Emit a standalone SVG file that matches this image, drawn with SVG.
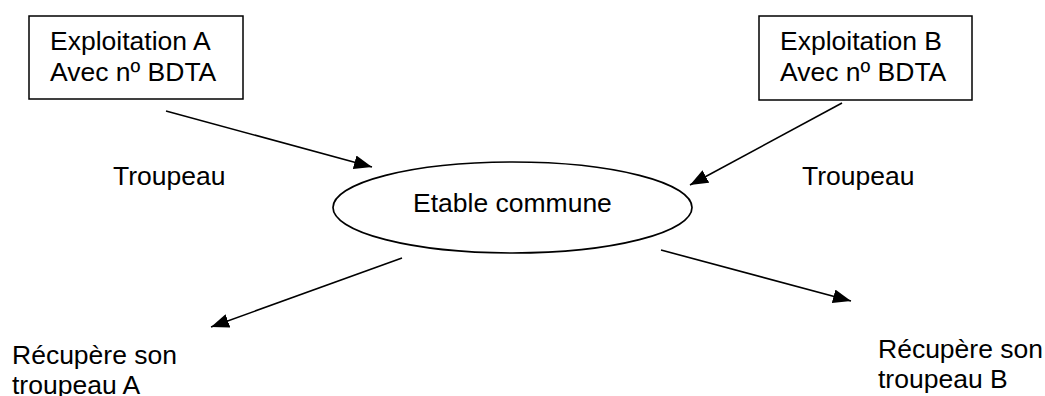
<svg xmlns="http://www.w3.org/2000/svg" width="1045" height="396" viewBox="0 0 1045 396">
<style>
text{font-family:"Liberation Sans",Arial,sans-serif;font-size:26.5px;fill:#000}
.box{fill:#fff;stroke:#000;stroke-width:1.5}
.conn line{stroke:#000;stroke-width:1.6}
</style>
<defs>
<marker id="ah" viewBox="0 0 18 14" refX="18" refY="7" markerWidth="18" markerHeight="14" markerUnits="userSpaceOnUse" orient="auto">
<path d="M0,0 L18,7 L0,14 Z" fill="#000"/>
</marker>
</defs>
<rect width="1045" height="396" fill="#fff"/>
<g id="nodeA">
<rect class="box" x="29" y="16" width="214" height="83"/>
<text x="50" y="50">Exploitation A</text>
<text x="50" y="81">Avec nº BDTA</text>
</g>
<g id="nodeB">
<rect class="box" x="759" y="16" width="213" height="84"/>
<text x="780" y="50">Exploitation B</text>
<text x="780" y="81">Avec nº BDTA</text>
</g>
<g id="etable">
<ellipse cx="512.5" cy="207.5" rx="179.5" ry="45.5" fill="#fff" stroke="#000" stroke-width="1.7"/>
<text x="413" y="212">Etable commune</text>
</g>
<g id="labelTroupeauA"><text x="113" y="185">Troupeau</text></g>
<g id="labelTroupeauB"><text x="802" y="185">Troupeau</text></g>
<g id="recupA">
<text x="12" y="364">Récupère son</text>
<text x="12" y="394">troupeau A</text>
</g>
<g id="recupB">
<text x="878" y="358">Récupère son</text>
<text x="878" y="388">troupeau B</text>
</g>
<g class="conn" id="connectors">
<line x1="166" y1="111" x2="372" y2="167" marker-end="url(#ah)"/>
<line x1="842" y1="103" x2="690" y2="185" marker-end="url(#ah)"/>
<line x1="402" y1="258" x2="211" y2="327" marker-end="url(#ah)"/>
<line x1="661" y1="250" x2="851" y2="301" marker-end="url(#ah)"/>
</g>
</svg>
